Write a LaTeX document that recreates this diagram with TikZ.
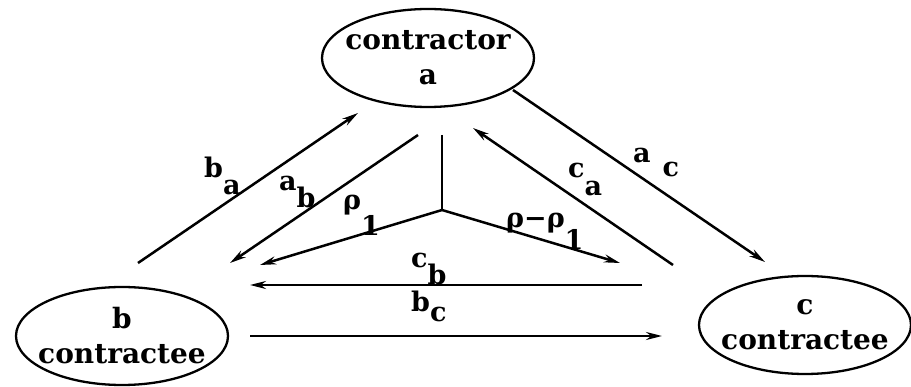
\documentclass[tikz,border=0pt]{standalone}
\usepackage{fontspec}
\setmainfont{DejaVu Serif}
\usetikzlibrary{arrows.meta,positioning,shapes.geometric}
\tikzset{
  party/.style={draw,ellipse,line width=2.3pt,minimum width=212pt,minimum height=98pt,
                inner xsep=-20pt,inner ysep=0pt,align=center,
                font=\fontsize{28}{35}\selectfont\bfseries},
  arr/.style={-{Stealth[length=16pt,width=8pt]},line width=2.5pt},
  edge/.style={line width=2.5pt},
  lbl/.style={font=\fontsize{27}{30}\selectfont\bfseries,inner sep=0pt,anchor=base west},
}
\newcommand{\sublab}[3][0.6em]{#2\raisebox{-#1}{#3}}

\begin{document}
\begin{tikzpicture}[x=1pt,y=-1pt]
\useasboundingbox (0,0) rectangle (911,387);
% the three parties
\node[party] (a) at (428,58) {contractor\\a};
\node[party] (b) at (122,336) {b\\contractee};
\node[party] (c) at (805,325) {c\\contractee};
% end points of the flows
\coordinate (ba0) at (138,263); \coordinate (ba1) at (358,113);
\coordinate (ab0) at (418,135); \coordinate (ab1) at (230,263);
\coordinate (ca0) at (673,265); \coordinate (ca1) at (473,128);
\coordinate (ac0) at (513,90);  \coordinate (ac1) at (765,262);
\coordinate (cb0) at (642,285); \coordinate (cb1) at (250,285);
\coordinate (bc0) at (250,336); \coordinate (bc1) at (662,336);
\coordinate (top) at (442,135); \coordinate (hub) at (442,210);
\coordinate (r1) at (260,265);  \coordinate (r2) at (620,263);
% flows
\draw[arr] (ba0) -- (ba1);
\draw[arr] (ab0) -- (ab1);
\draw[arr] (ca0) -- (ca1);
\draw[arr] (ac0) -- (ac1);
\draw[arr] (cb0) -- (cb1);
\draw[arr] (bc0) -- (bc1);
\draw[edge] (top) -- (hub);
\draw[arr] (hub) -- (r1);
\draw[arr] (hub) -- (r2);
% labels
\node[lbl] (lba) at (204,178) {\sublab[0.6em]{b}{a}};
\node[lbl] (lab) at (279,191) {\sublab[0.6em]{a}{b}};
\node[lbl] (lr1) at (343,210) {\sublab[0.95em]{ρ}{1}};
\node[lbl] (lr2) at (506,228) {\sublab[0.8em]{ρ−ρ}{1}};
\node[lbl] (lca) at (568,178) {\sublab[0.65em]{c}{a}};
\node[lbl] (lac) at (633,163) {\sublab[0.5em]{a\hspace{12pt}}{c}};
\node[lbl] (lcb) at (411,268) {\sublab[0.6em]{c}{b}};
\node[lbl] (lbc) at (411,312) {\sublab[0.35em]{b}{c}};
\end{tikzpicture}
\end{document}
